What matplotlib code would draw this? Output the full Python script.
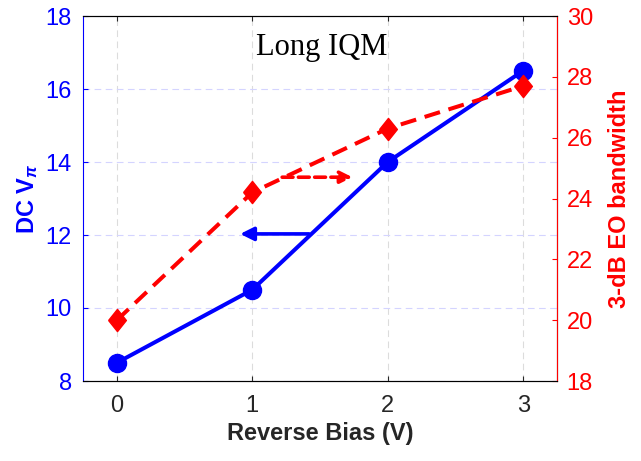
import matplotlib
matplotlib.use('Agg')
import matplotlib.pyplot as plt

# data
bias = [0, 1, 2, 3]
vpi = [8.5, 10.5, 14.0, 16.5]
bw = [20.0, 24.2, 26.3, 27.7]

plt.rcParams['font.family'] = ['Liberation Sans', 'DejaVu Sans']
plt.rcParams['mathtext.fontset'] = 'custom'
plt.rcParams['mathtext.it'] = 'Liberation Sans:italic:bold'
plt.rcParams['mathtext.rm'] = 'Liberation Sans:bold'

fig = plt.figure(figsize=(6.41, 4.61), dpi=100)
ax = fig.add_axes([83 / 641, 1 - 381 / 461, (557 - 83) / 641, (381 - 16) / 461])
ax2 = ax.twinx()

# taller-than-wide diamond like the reference
diamond = [(-0.8, 0), (0, 1), (0.8, 0), (0, -1), (-0.8, 0)]

ax.plot(bias, vpi, 'b-o', linewidth=2.9, markersize=13, zorder=3)
ax2.plot(bias, bw, color='red', linestyle=(0, (4, 2.2)), linewidth=2.9,
         marker=diamond, markersize=16, zorder=3)

# arrows pointing to the axes
ax.annotate('', xy=(0.89, 12.03), xytext=(1.44, 12.03),
            arrowprops=dict(arrowstyle='-|>', color='blue', lw=2.6,
                            mutation_scale=20))
ax2.annotate('', xy=(1.76, 24.7), xytext=(1.2, 24.7),
             arrowprops=dict(arrowstyle='-|>', color='red', lw=2.6,
                             linestyle=(0, (3, 1.5)), mutation_scale=18))

ax.set_xlim(-0.25, 3.25)
ax.set_ylim(8, 18)
ax2.set_ylim(18, 30)
ax.set_xticks(bias)
ax.set_yticks([8, 10, 12, 14, 16, 18])
ax2.set_yticks([18, 20, 22, 24, 26, 28, 30])

ax.grid(axis='y', color='#d4d4ff', linestyle=(0, (6, 4)), linewidth=0.8)
ax.grid(axis='x', color='#dcdcdc', linestyle=(0, (6, 4)), linewidth=0.8)
ax.set_axisbelow(True)

ax.tick_params(axis='x', direction='in', top=True, labelsize=17,
               colors='#262626', pad=10)
ax.tick_params(axis='y', direction='in', labelsize=17, colors='blue', pad=8)
ax2.tick_params(axis='y', direction='in', labelsize=17, colors='red', pad=7)

ax.spines['left'].set_color('blue')
ax.spines['bottom'].set_color('#262626')
ax.spines['top'].set_color('#262626')
ax2.spines['right'].set_color('red')
ax2.spines['left'].set_visible(False)

ax.set_xlabel('Reverse Bias (V)', fontsize=17, fontweight='bold', color='#262626')
ax.set_ylabel(r'DC V$_{\pi}$', fontsize=17, fontweight='bold', color='blue')
ax2.set_ylabel('3-dB EO bandwidth', fontsize=17, fontweight='bold', color='red',
               labelpad=11)

ax.text(1.51, 16.93, 'Long IQM', fontsize=22, family='Liberation Serif',
        ha='center', va='baseline')

fig.savefig('out.png', dpi=100)
